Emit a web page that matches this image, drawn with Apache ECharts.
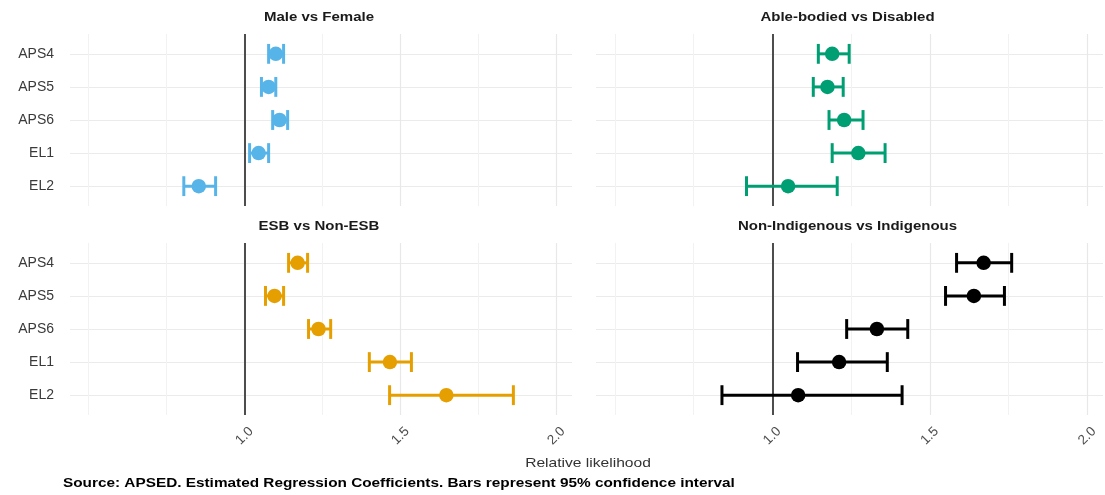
<!DOCTYPE html>
<html>
<head>
<meta charset="utf-8">
<script src="https://cdn.jsdelivr.net/npm/echarts@6/dist/echarts.min.js"></script>
<style>html,body{margin:0;padding:0;background:#fff}#c{width:1105px;height:495px}</style>
</head>
<body>
<div id="c"></div>
<script>
// ---- data ----
const categories = ['APS4', 'APS5', 'APS6', 'EL1', 'EL2'];
const panelTitles = ['Male vs Female', 'Able-bodied vs Disabled', 'ESB vs Non-ESB', 'Non-Indigenous vs Indigenous'];
const panelColors = ['#56B4E9', '#009E73', '#E69F00', '#000000'];

const maleEst = [1.100, 1.077, 1.112, 1.045, 0.853];
const maleLo  = [1.077, 1.054, 1.090, 1.016, 0.805];
const maleHi  = [1.125, 1.100, 1.138, 1.077, 0.907];

const ableEst = [1.190, 1.175, 1.228, 1.273, 1.050];
const ableLo  = [1.146, 1.130, 1.180, 1.190, 0.918];
const ableHi  = [1.244, 1.225, 1.288, 1.358, 1.206];

const esbEst = [1.170, 1.096, 1.237, 1.466, 1.647];
const esbLo  = [1.141, 1.067, 1.205, 1.400, 1.465];
const esbHi  = [1.202, 1.125, 1.276, 1.535, 1.862];

const indEst = [1.671, 1.640, 1.332, 1.212, 1.082];
const indLo  = [1.585, 1.550, 1.236, 1.080, 0.840];
const indHi  = [1.760, 1.737, 1.430, 1.365, 1.412];

const xMajorTicks = [1.0, 1.5, 2.0];
const xMinorTicks = [0.5, 0.75, 1.25, 1.75];
const xTickLabels = ['1.0', '1.5', '2.0'];
const refValue = 1;
const xTitle = 'Relative likelihood';
const caption = 'Source: APSED. Estimated Regression Coefficients. Bars represent 95% confidence interval';

// ---- layout ----
const panels = [
  {est: maleEst, lo: maleLo, hi: maleHi},
  {est: ableEst, lo: ableLo, hi: ableHi},
  {est: esbEst, lo: esbLo, hi: esbHi},
  {est: indEst, lo: indLo, hi: indHi}
];
const X_MIN = 0.44, X_MAX = 2.05;
const gridPos = [
  {left: 70, width: 502, top: 34, height: 172},
  {left: 596, width: 507, top: 34, height: 172},
  {left: 70, width: 502, top: 243, height: 172},
  {left: 596, width: 507, top: 243, height: 172}
];
const FONT = '"Liberation Sans", Arial, sans-serif';
const STRETCH = 1.2;

const grids = [], xAxes = [], yAxes = [], series = [], graphics = [];
const catIdx = categories.map((c, i) => i);

panels.forEach((p, i) => {
  const g = gridPos[i];
  grids.push(Object.assign({containLabel: false}, g));
  const isBottom = i >= 2, isLeft = i % 2 === 0;
  // minor x grid
  xAxes.push({
    type: 'value', gridIndex: i, position: 'bottom', min: X_MIN, max: X_MAX,
    axisLine: {show: false},
    axisTick: {show: false, customValues: xMinorTicks},
    axisLabel: {show: false},
    splitLine: {show: true, lineStyle: {color: '#F2F2F2', width: 1}}
  });
  // major x grid + labels
  xAxes.push({
    type: 'value', gridIndex: i, position: 'bottom', min: X_MIN, max: X_MAX,
    axisLine: {show: false},
    axisTick: {show: false, customValues: xMajorTicks},
    axisLabel: {
      show: isBottom, customValues: xMajorTicks, rotate: 45,
      align: 'center', verticalAlign: 'middle', margin: 21,
      fontFamily: FONT, fontSize: 13.5, color: '#4D4D4D',
      formatter: v => xTickLabels[xMajorTicks.indexOf(v)] ?? v
    },
    splitLine: {show: true, lineStyle: {color: '#E8E8E8', width: 1.2}}
  });
  yAxes.push({
    type: 'value', gridIndex: i, min: -0.6, max: catIdx.length - 0.4, inverse: true,
    axisLine: {show: false},
    axisTick: {show: false, customValues: catIdx},
    axisLabel: {
      show: isLeft, customValues: catIdx, margin: 16,
      fontFamily: FONT, fontSize: 14, color: '#3A3A3A',
      formatter: v => categories[v]
    },
    splitLine: {show: true, lineStyle: {color: '#EBEBEB', width: 1.2}}
  });
  const color = panelColors[i];
  series.push({
    type: 'custom', xAxisIndex: 2 * i + 1, yAxisIndex: i,
    data: catIdx.map(k => [p.lo[k], p.hi[k], k]),
    encode: {x: [0, 1], y: 2},
    z: 3,
    renderItem: (params, api) => {
      const a = api.coord([api.value(0), api.value(2)]);
      const b = api.coord([api.value(1), api.value(2)]);
      const h = api.size([0, 0.3])[1];
      const st = {stroke: color, lineWidth: 3};
      return {type: 'group', children: [
        {type: 'line', shape: {x1: a[0], y1: a[1], x2: b[0], y2: b[1]}, style: st},
        {type: 'line', shape: {x1: a[0], y1: a[1] - h, x2: a[0], y2: a[1] + h}, style: st},
        {type: 'line', shape: {x1: b[0], y1: b[1] - h, x2: b[0], y2: b[1] + h}, style: st}
      ]};
    },
    markLine: {
      silent: true, symbol: 'none', z: 2,
      label: {show: false},
      lineStyle: {color: '#4D4D4D', width: 2, type: 'solid'},
      data: [{xAxis: refValue}]
    }
  });
  series.push({
    type: 'scatter', xAxisIndex: 2 * i + 1, yAxisIndex: i, z: 4,
    symbol: 'circle', symbolSize: 14.5,
    itemStyle: {color: color, opacity: 1},
    data: catIdx.map(k => [p.est[k], k])
  });
  graphics.push({
    type: 'text', x: g.left + g.width / 2 - 2, y: g.top - 16, scaleX: STRETCH,
    style: {text: panelTitles[i], textAlign: 'center', textVerticalAlign: 'middle',
            font: 'bold 12.5px ' + FONT, fill: '#1A1A1A'}
  });
});

graphics.push({
  type: 'text', x: 588, y: 463, scaleX: STRETCH,
  style: {text: xTitle, textAlign: 'center', textVerticalAlign: 'middle',
          font: '13px ' + FONT, fill: '#333333'}
});
graphics.push({
  type: 'text', x: 63, y: 483, scaleX: 1.19,
  style: {text: caption, textAlign: 'left', textVerticalAlign: 'middle',
          font: 'bold 12.9px ' + FONT, fill: '#000000'}
});

const chart = echarts.init(document.getElementById('c'), null, {renderer: 'canvas'});
chart.setOption({
  animation: false,
  backgroundColor: '#FFFFFF',
  grid: grids,
  xAxis: xAxes,
  yAxis: yAxes,
  series: series,
  graphic: graphics
});
</script>
</body>
</html>
